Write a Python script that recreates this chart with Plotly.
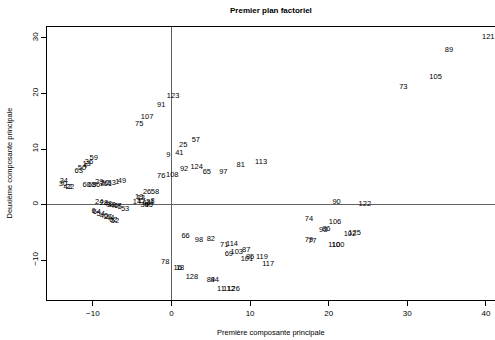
import plotly.graph_objects as go

# Coordonnees des individus sur le premier plan factoriel
LABELS = [
    "121", "89", "105", "73", "123", "91", "107", "75", "57", "25", "9", "41",
    "76", "108", "92", "124", "65", "97", "81", "113",
    "90", "122", "74", "106", "93", "86", "79", "77", "102", "125", "110", "100",
    "66", "98", "82", "71", "114", "69", "103", "87", "101", "85", "119", "117",
    "78", "16", "18", "128", "84", "94", "11", "112", "126",
    "26", "58", "19", "12", "14", "17", "43", "31", "8", "35", "45",
    "63", "50", "4", "13", "36", "59",
    "34", "30", "22", "42",
    "60", "68", "56", "29", "2", "20", "61", "33", "1", "49",
    "24", "28", "48", "37", "46", "47", "5", "53",
    "6", "64", "54", "40", "27", "44", "62", "52",
]
PC1 = [
    40.3, 35.3, 33.6, 29.5, 0.2, -1.3, -3.1, -4.1, 3.1, 1.5, -0.4, 1.0,
    -1.3, 0.1, 1.6, 3.2, 4.5, 6.6, 8.8, 11.4,
    21.0, 24.6, 17.5, 20.8, 19.3, 19.7, 17.5, 17.9, 22.7, 23.3, 20.7, 21.2,
    1.8, 3.5, 5.0, 6.7, 7.7, 7.3, 8.3, 9.5, 9.6, 10.0, 11.5, 12.3,
    -0.8, 0.8, 1.1, 2.6, 5.0, 5.5, 6.3, 7.3, 7.9,
    -3.1, -2.1, -4.1, -3.9, -4.4, -3.8, -3.2, -2.7, -2.4, -3.4, -2.9,
    -11.8, -11.4, -11.0, -10.8, -10.5, -9.9,
    -13.7, -13.8, -12.9, -13.2,
    -10.8, -10.1, -9.6, -9.2, -8.8, -8.5, -8.1, -7.6, -6.9, -6.3,
    -9.2, -8.6, -8.1, -7.7, -7.3, -6.9, -6.6, -5.9,
    -9.9, -9.5, -9.0, -8.6, -8.1, -7.8, -7.4, -7.2,
]
PC2 = [
    30.2, 27.8, 23.0, 21.2, 19.5, 17.9, 15.8, 14.5, 11.6, 10.7, 8.9, 9.3,
    5.1, 5.3, 6.4, 6.8, 5.9, 5.9, 7.1, 7.7,
    0.5, 0.1, -2.6, -3.2, -4.6, -4.4, -6.4, -6.6, -5.3, -5.1, -7.3, -7.3,
    -5.7, -6.4, -6.2, -7.3, -7.1, -8.9, -8.6, -8.2, -9.8, -9.5, -9.5, -10.7,
    -10.4, -11.4, -11.4, -13.1, -13.6, -13.6, -15.2, -15.2, -15.2,
    2.3, 2.3, 1.4, 1.2, 0.5, 0.6, 0.3, 0.5, 0.6, -0.1, -0.1,
    6.0, 6.6, 6.9, 7.3, 7.7, 8.4,
    4.2, 3.7, 3.2, 3.2,
    3.5, 3.5, 3.5, 4.1, 3.7, 3.9, 3.7, 3.9, 4.1, 4.2,
    0.5, 0.3, 0.1, -0.1, -0.3, -0.3, -0.5, -0.8,
    -1.2, -1.4, -1.7, -2.1, -2.3, -2.4, -2.8, -3.0,
]
X_TICKS = [-10, 0, 10, 20, 30, 40]
Y_TICKS = [-10, 0, 10, 20, 30]

FONT = "Liberation Sans, Arial, Helvetica, sans-serif"

fig = go.Figure()
fig.add_trace(go.Scatter(
    x=PC1, y=PC2, mode="text", text=LABELS,
    textposition="middle center", cliponaxis=False,
    textfont=dict(family=FONT, size=7.5, color="black"),
    hoverinfo="text", showlegend=False,
))

axe = dict(showgrid=False, showline=True, linecolor="black", linewidth=1,
           ticks="outside", ticklen=5, tickcolor="black", automargin=False,
           tickfont=dict(family=FONT, size=8, color="black"),
           zeroline=True, zerolinecolor="#606060", zerolinewidth=1)

fig.update_layout(
    width=495, height=340,
    margin=dict(l=47, r=0, t=27, b=40),
    plot_bgcolor="white", paper_bgcolor="white",
    font=dict(family=FONT, color="black"),
    xaxis=dict(axe, range=[-15.84, 41.16], tickvals=X_TICKS, mirror=True),
    yaxis=dict(axe, range=[-17.2, 31.98], tickvals=Y_TICKS, tickangle=-90),
    annotations=[
        dict(text="<b>Premier plan factoriel</b>", x=0.5, y=1, xref="paper",
             yref="paper", yshift=17, showarrow=False, yanchor="middle",
             font=dict(family=FONT, size=8)),
        dict(text="Première composante principale", x=0.5, y=0,
             xref="paper", yref="paper", yshift=-32, showarrow=False,
             yanchor="middle", font=dict(family=FONT, size=7.5)),
        dict(text="Deuxième composante principale", x=0, y=0.5,
             xref="paper", yref="paper", xshift=-38, showarrow=False,
             xanchor="center", textangle=-90,
             font=dict(family=FONT, size=7.5)),
    ],
)

# la page a une marge de 8 px par defaut : on la retire
fig.write_html("out.html", config={"displayModeBar": False},
               post_script="document.body.style.margin='0';")
